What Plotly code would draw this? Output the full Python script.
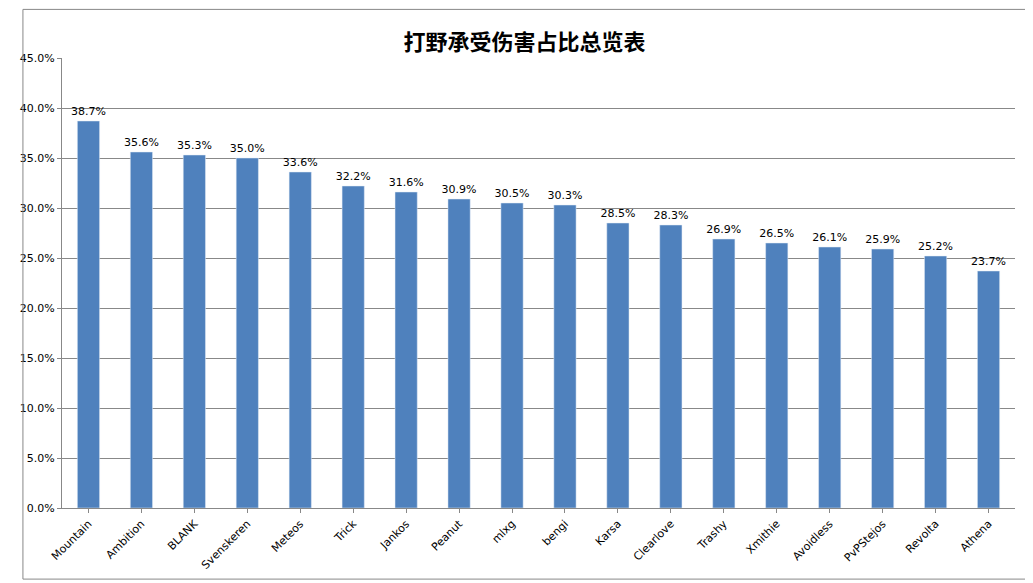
import plotly.graph_objects as go

players = ["Mountain", "Ambition", "BLANK", "Svenskeren", "Meteos", "Trick", "Jankos",
           "Peanut", "mlxg", "bengi", "Karsa", "Clearlove", "Trashy", "Xmithie",
           "Avoidless", "PvPStejos", "Revolta", "Athena"]
share = [38.7, 35.6, 35.3, 35.0, 33.6, 32.2, 31.6, 30.9, 30.5, 30.3, 28.5, 28.3,
         26.9, 26.5, 26.1, 25.9, 25.2, 23.7]

fig = go.Figure(go.Bar(
    x=players, y=[v / 100 for v in share],
    text=[f"{v:.1f}%" for v in share], textposition="outside",
    constraintext="none",
    textfont=dict(size=11, color="black"),
    marker=dict(color="#4F81BD"), width=0.42, cliponaxis=False,
))

fig.update_layout(
    width=1033, height=583,
    title=dict(text="<b>打野承受伤害占比总览表</b>", x=0.5, y=0.955,
               font=dict(family="Noto Sans CJK SC", size=22, color="black")),
    font=dict(family="DejaVu Sans", size=11, color="black"),
    paper_bgcolor="white", plot_bgcolor="white",
    margin=dict(l=40, r=26, t=50, b=83),
    showlegend=False,
    shapes=[dict(type="rect", xref="paper", yref="paper", x0=-0.041, x1=1.014,
                 y0=-0.158, y1=1.108, line=dict(color="#888888", width=1))],
)
fig.update_xaxes(tickangle=-45, showline=True, linecolor="#888888",
                 ticks="outside", ticklen=4, tickcolor="#888888")
fig.update_yaxes(range=[0, 0.45], dtick=0.05, tickformat=".1%",
                 showgrid=True, gridcolor="#888888", gridwidth=1,
                 showline=True, linecolor="#888888", ticks="outside",
                 ticklen=4, tickcolor="#888888", zeroline=False)

fig.write_html("out.html")
